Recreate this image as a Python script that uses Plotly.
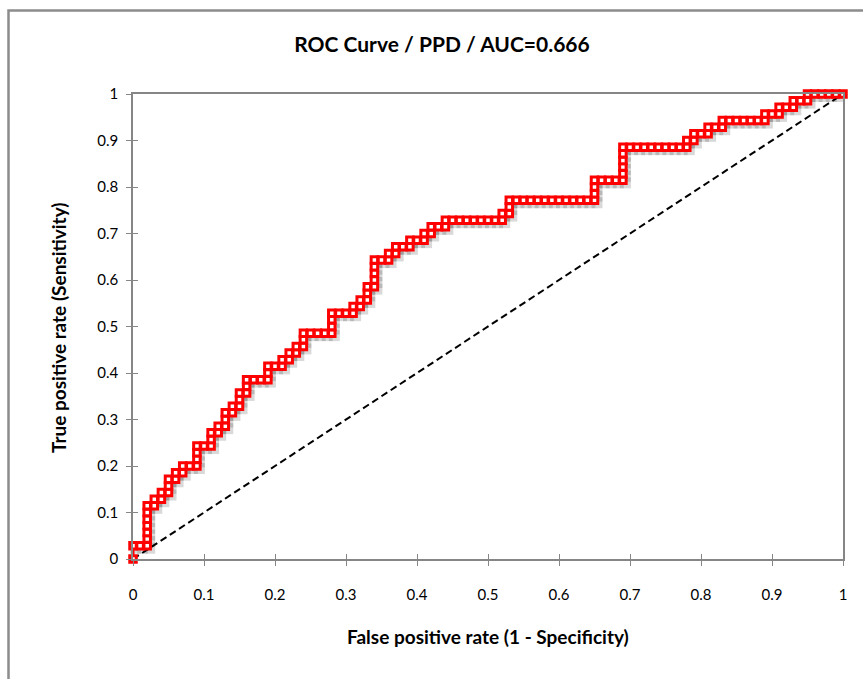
import plotly.graph_objects as go

TITLE = "ROC Curve / PPD / AUC=0.666"
X_TITLE = "False positive rate (1 - Specificity)"
Y_TITLE = "True positive rate (Sensitivity)"

N_NEG = 100
N_POS = 70

fp_count = [
    0, 0, 1, 2, 2, 2, 2, 2, 2, 2,
    3, 3, 4, 4, 5, 5, 5, 6, 6, 7,
    7, 8, 9, 9, 9, 9, 10, 11, 11, 11,
    12, 12, 13, 13, 13, 14, 14, 15, 15, 15,
    16, 16, 16, 17, 18, 19, 19, 19, 20, 21,
    21, 22, 22, 23, 23, 24, 24, 24, 25, 26,
    27, 28, 28, 28, 28, 29, 30, 31, 31, 32,
    32, 33, 33, 33, 34, 34, 34, 34, 34, 35,
    36, 36, 37, 37, 38, 39, 39, 40, 41, 41,
    42, 42, 43, 44, 44, 45, 46, 47, 48, 49,
    50, 51, 52, 52, 53, 53, 53, 54, 55, 56,
    57, 58, 59, 60, 61, 62, 63, 64, 65, 65,
    65, 65, 66, 67, 68, 69, 69, 69, 69, 69,
    69, 70, 71, 72, 73, 74, 75, 76, 77, 78,
    78, 79, 79, 80, 81, 81, 82, 83, 83, 84,
    85, 86, 87, 88, 89, 89, 90, 91, 91, 92,
    93, 93, 94, 95, 95, 96, 97, 98, 99, 100,
]
tp_count = [
    0, 2, 2, 2, 3, 4, 5, 6, 7, 8,
    8, 9, 9, 10, 10, 11, 12, 12, 13, 13,
    14, 14, 14, 15, 16, 17, 17, 17, 18, 19,
    19, 20, 20, 21, 22, 22, 23, 23, 24, 25,
    25, 26, 27, 27, 27, 27, 28, 29, 29, 29,
    30, 30, 31, 31, 32, 32, 33, 34, 34, 34,
    34, 34, 35, 36, 37, 37, 37, 37, 38, 38,
    39, 39, 40, 41, 41, 42, 43, 44, 45, 45,
    45, 46, 46, 47, 47, 47, 48, 48, 48, 49,
    49, 50, 50, 50, 51, 51, 51, 51, 51, 51,
    51, 51, 51, 52, 52, 53, 54, 54, 54, 54,
    54, 54, 54, 54, 54, 54, 54, 54, 54, 55,
    56, 57, 57, 57, 57, 57, 58, 59, 60, 61,
    62, 62, 62, 62, 62, 62, 62, 62, 62, 62,
    63, 63, 64, 64, 64, 65, 65, 65, 66, 66,
    66, 66, 66, 66, 66, 67, 67, 67, 68, 68,
    68, 69, 69, 69, 70, 70, 70, 70, 70, 70,
]
assert len(fp_count) == len(tp_count)

fpr = [v / N_NEG for v in fp_count]
tpr = [v / N_POS for v in tp_count]
diag_x = [0, 1]
diag_y = [0, 1]
ticks = [0, 0.1, 0.2, 0.3, 0.4, 0.5, 0.6, 0.7, 0.8, 0.9, 1]
tick_text = ["0", "0.1", "0.2", "0.3", "0.4", "0.5", "0.6", "0.7", "0.8", "0.9", "1"]

W, H = 863, 679
L, R, T, B = 133, 20, 94, 120
PW = W - L - R
PH = H - T - B
SHX, SHY = 2.5, 2.5  # shadow offset in px

FONT = "Lato"
AXIS_GRAY = "#868686"

fig = go.Figure()

# shadow of markers (on hidden, shifted axes)
fig.add_trace(go.Scatter(
    x=fpr, y=tpr, mode="markers", xaxis="x", yaxis="y",
    marker=dict(symbol="square", size=11, color="rgba(0,0,0,0.15)", line=dict(width=0)),
    cliponaxis=False, hoverinfo="skip", showlegend=False,
))

fig.add_trace(go.Scatter(
    x=diag_x, y=diag_y, mode="lines", xaxis="x2", yaxis="y2",
    line=dict(color="black", width=2, dash="7px,4px"),
    cliponaxis=False, showlegend=False,
))

fig.add_trace(go.Scatter(
    x=fpr, y=tpr, mode="lines+markers", xaxis="x2", yaxis="y2",
    line=dict(color="#ff0000", width=3),
    marker=dict(symbol="square", size=6.5, color="white", line=dict(color="#ff0000", width=3)),
    cliponaxis=False, showlegend=False,
))

# invisible trace so cross-tick axes render
fig.add_trace(go.Scatter(x=diag_x, y=diag_y, mode="markers", xaxis="x3", yaxis="y3",
                         marker=dict(opacity=0), hoverinfo="skip", showlegend=False))

fig.update_layout(
    width=W, height=H,
    margin=dict(l=L, r=R, t=T, b=B, autoexpand=False),
    paper_bgcolor="white", plot_bgcolor="white",
    font=dict(family=FONT, size=15, color="black"),
    title=dict(text="<b>" + TITLE + "</b>", x=442 / W, xref="container", xanchor="center",
               y=1 - 45 / H, yref="container", yanchor="middle",
               font=dict(family=FONT, size=21, color="black")),
    xaxis=dict(domain=[0, 1], range=[0 - SHX / PW, 1 - SHX / PW], visible=False, fixedrange=True),
    yaxis=dict(domain=[0, 1], range=[0 + SHY / PH, 1 + SHY / PH], visible=False, fixedrange=True),
    xaxis2=dict(overlaying="x", anchor="y2", range=[0, 1], showgrid=False, zeroline=False,
                showline=True, linecolor=AXIS_GRAY, linewidth=1.6, mirror=True,
                ticks="outside", ticklen=5, tickwidth=1.4, tickcolor=AXIS_GRAY,
                tickvals=ticks, ticktext=tick_text, ticklabelstandoff=16,
                tickfont=dict(family=FONT, size=15, color="black")),
    yaxis2=dict(overlaying="y", anchor="x2", range=[0, 1], showgrid=False, zeroline=False,
                showline=True, linecolor=AXIS_GRAY, linewidth=1.6, mirror=True,
                ticks="outside", ticklen=5, tickwidth=1.4, tickcolor=AXIS_GRAY,
                tickvals=ticks, ticktext=tick_text, ticklabelstandoff=5,
                tickfont=dict(family=FONT, size=15, color="black")),
    xaxis3=dict(overlaying="x", anchor="y3", range=[0, 1], showgrid=False, zeroline=False,
                showline=False, ticks="inside", ticklen=5, tickwidth=1.4, tickcolor=AXIS_GRAY,
                tickvals=ticks, showticklabels=False),
    yaxis3=dict(overlaying="y", anchor="x3", range=[0, 1], showgrid=False, zeroline=False,
                showline=False, ticks="inside", ticklen=5, tickwidth=1.4, tickcolor=AXIS_GRAY,
                tickvals=ticks, showticklabels=False),
)

# axis titles
fig.add_annotation(text="<b>" + X_TITLE + "</b>", xref="paper", yref="paper",
                   x=(488 - L) / PW, y=(H - B - 636) / PH, showarrow=False,
                   xanchor="center", yanchor="middle",
                   font=dict(family=FONT, size=19, color="black"))
fig.add_annotation(text="<b>" + Y_TITLE + "</b>", xref="paper", yref="paper",
                   x=(58 - L) / PW, y=(H - B - 328) / PH, showarrow=False, textangle=-90,
                   xanchor="center", yanchor="middle",
                   font=dict(family=FONT, size=19, color="black"))

# outer chart border
fig.add_shape(type="rect", xref="paper", yref="paper",
              x0=(8.5 - L) / PW, x1=(880 - L) / PW,
              y0=(H - B - 700) / PH, y1=(H - B - 10.5) / PH,
              line=dict(color="#8c8c8c", width=2.5), fillcolor="rgba(0,0,0,0)", layer="below")

fig.write_html("out.html")
